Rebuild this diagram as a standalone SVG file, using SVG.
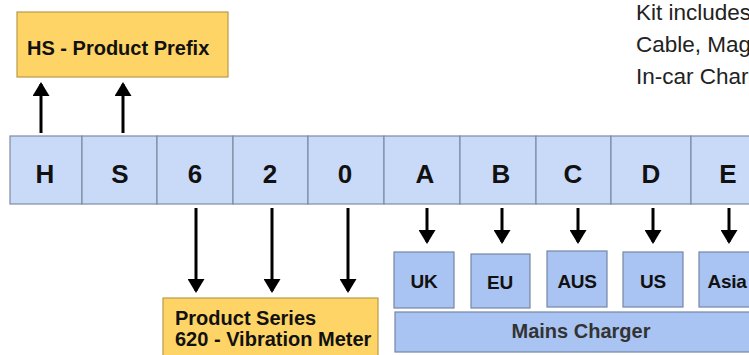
<svg xmlns="http://www.w3.org/2000/svg" width="749" height="355" viewBox="0 0 749 355">
<style>
.yel{fill:#FDD465;stroke:#B89A4A;stroke-width:1.2}
.cell{fill:#C9DAF8;stroke:#7D8CA3;stroke-width:1.2}
.sub{fill:#A9C4F2;stroke:#7486A3;stroke-width:1.2}
.lbl{font-family:"Liberation Sans",Arial,sans-serif;font-weight:bold;fill:#111}
.big{font-size:26px;text-anchor:middle}
.mid{font-size:20px}
.sm{font-size:19px;text-anchor:middle;letter-spacing:-0.3px}
.kit{font-family:"Liberation Sans",Arial,sans-serif;font-size:22.5px;fill:#222}
.arr{stroke:#000;stroke-width:3;fill:none;marker-end:url(#ah)}
</style>
<defs>
<marker id="ah" viewBox="0 0 14 17" refX="12" refY="8.5" markerWidth="14" markerHeight="17" orient="auto" markerUnits="userSpaceOnUse">
<path d="M0,0 L14,8.5 L0,17 z" fill="#000"/>
</marker>
</defs>
<rect width="749" height="355" fill="#fff"/>

<g id="prefix">
<rect class="yel" x="17" y="12" width="211" height="65"/>
<text class="lbl mid" x="27" y="55">HS - Product Prefix</text>
</g>

<g id="kit">
<text class="kit" x="636" y="20">Kit includes</text>
<text class="kit" x="636" y="52">Cable, Mag</text>
<text class="kit" x="636" y="84">In-car Char</text>
</g>

<g id="code">
<rect class="cell" x="10" y="136" width="72" height="68"/>
<rect class="cell" x="82" y="136" width="75" height="68"/>
<rect class="cell" x="157" y="136" width="76" height="68"/>
<rect class="cell" x="233" y="136" width="75" height="68"/>
<rect class="cell" x="308" y="136" width="76" height="68"/>
<rect class="cell" x="384" y="136" width="76" height="68"/>
<rect class="cell" x="460" y="136" width="76" height="68"/>
<rect class="cell" x="536" y="136" width="75" height="68"/>
<rect class="cell" x="611" y="136" width="80" height="68"/>
<rect class="cell" x="691" y="136" width="80" height="68"/>
<text class="lbl big" x="45" y="183">H</text>
<text class="lbl big" x="120" y="183">S</text>
<text class="lbl big" x="195" y="183">6</text>
<text class="lbl big" x="270" y="183">2</text>
<text class="lbl big" x="345" y="183">0</text>
<text class="lbl big" x="425" y="183">A</text>
<text class="lbl big" x="501" y="183">B</text>
<text class="lbl big" x="573" y="183">C</text>
<text class="lbl big" x="651" y="183">D</text>
<text class="lbl big" x="728" y="183">E</text>
</g>

<g id="series">
<rect class="yel" x="163" y="298" width="215" height="70"/>
<text class="lbl mid" x="175" y="325">Product Series</text>
<text class="lbl mid" x="175" y="346">620 - Vibration Meter</text>
</g>

<g id="charger">
<rect class="sub" x="395" y="312" width="370" height="40"/>
<text class="lbl mid" x="581" y="338" text-anchor="middle" style="fill:#333">Mains Charger</text>
</g>
<g id="uk"><rect class="sub" x="394" y="252" width="60" height="56"/><text class="lbl sm" x="424" y="288">UK</text></g>
<g id="eu"><rect class="sub" x="471" y="254" width="59" height="54"/><text class="lbl sm" x="500" y="289">EU</text></g>
<g id="aus"><rect class="sub" x="547" y="251" width="60" height="56"/><text class="lbl sm" x="577" y="288">AUS</text></g>
<g id="us"><rect class="sub" x="623" y="252" width="60" height="55"/><text class="lbl sm" x="653" y="288">US</text></g>
<g id="asia"><rect class="sub" x="699" y="252" width="60" height="55"/><text class="lbl sm" x="727" y="288">Asia</text></g>

<g id="connectors">
<line class="arr" x1="41" y1="133" x2="41" y2="84"/>
<line class="arr" x1="123" y1="133" x2="123" y2="84"/>
<line class="arr" x1="196" y1="208" x2="196" y2="291"/>
<line class="arr" x1="272" y1="208" x2="272" y2="291"/>
<line class="arr" x1="348" y1="208" x2="348" y2="291"/>
<line class="arr" x1="427" y1="208" x2="427" y2="242"/>
<line class="arr" x1="502" y1="208" x2="502" y2="242"/>
<line class="arr" x1="578" y1="208" x2="578" y2="242"/>
<line class="arr" x1="653" y1="208" x2="653" y2="242"/>
<line class="arr" x1="729" y1="208" x2="729" y2="242"/>
</g>
</svg>
